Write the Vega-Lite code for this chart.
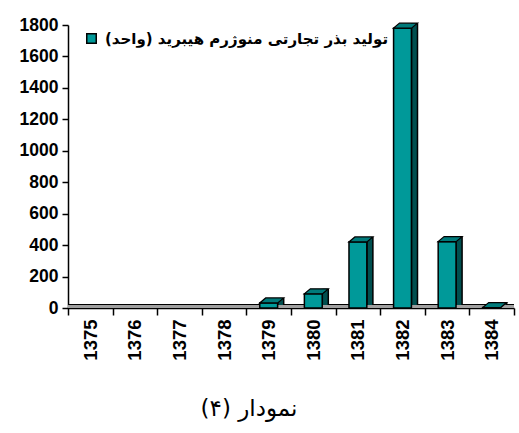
{
  "$schema": "https://vega.github.io/schema/vega-lite/v6.json",
  "width": 446,
  "height": 283,
  "autosize": "none",
  "padding": {"left": 68, "top": 25, "right": 5, "bottom": 125},
  "background": "white",
  "config": {"view": {"stroke": null}},
  "title": {"text": "نمودار (۴)", "orient": "bottom", "anchor": "middle", "dx": -42, "offset": 38, "font": "DejaVu Sans", "fontSize": 23, "fontWeight": "normal", "color": "black"},
  "data": {"values": [
    {"year": "1375", "value": 0},
    {"year": "1376", "value": 0},
    {"year": "1377", "value": 0},
    {"year": "1378", "value": 0},
    {"year": "1379", "value": 32},
    {"year": "1380", "value": 90},
    {"year": "1381", "value": 420},
    {"year": "1382", "value": 1780},
    {"year": "1383", "value": 422},
    {"year": "1384", "value": 3}
  ]},
  "encoding": {
    "x": {"field": "year", "type": "nominal", "sort": null,
      "scale": {"domain": ["1375", "1376", "1377", "1378", "1379", "1380", "1381", "1382", "1383", "1384"], "paddingInner": 0, "paddingOuter": 0},
      "axis": {"title": null, "labelAngle": -90, "labelAlign": "right", "labelBaseline": "middle", "labelFont": "Liberation Sans", "labelFontSize": 18.5, "labelFontWeight": "bold", "labelColor": "black", "tickBand": "extent", "tickSize": 7, "tickWidth": 1.5, "tickColor": "black", "domainColor": "black", "domainWidth": 1.5, "labelPadding": 4}},
    "y": {"field": "value", "type": "quantitative", "scale": {"domain": [0, 1800], "nice": false},
      "axis": {"title": null, "format": "d", "values": [0, 200, 400, 600, 800, 1000, 1200, 1400, 1600, 1800], "grid": false, "labelFont": "Liberation Sans", "labelFontSize": 17.5, "labelFontWeight": "bold", "labelColor": "black", "tickSize": 6, "tickWidth": 1.5, "tickColor": "black", "domainColor": "black", "domainWidth": 1.5, "labelPadding": 4}}
  },
  "layer": [
    {"mark": {"type": "rule", "color": "black", "strokeWidth": 5, "yOffset": -1.5},
     "encoding": {"x": null, "y": {"datum": 0}}},
    {"mark": {"type": "rule", "color": "#a0a0a0", "strokeWidth": 2.5, "yOffset": -1.5},
     "encoding": {"x": null, "y": {"datum": 0}}},
    {"transform": [{"filter": "datum.value > 0"}],
     "mark": {"type": "rule", "color": "black", "strokeWidth": 7.5, "xOffset": 12, "yOffset": -5, "y2Offset": -3},
     "encoding": {"y2": {"datum": 0}}},
    {"transform": [{"filter": "datum.value > 0"}],
     "mark": {"type": "rule", "color": "#004f4f", "strokeWidth": 4.5, "xOffset": 12, "yOffset": -5, "y2Offset": -3},
     "encoding": {"y2": {"datum": 0}}},
    {"transform": [{"filter": "datum.value > 0"}],
     "mark": {"type": "bar", "width": {"band": 0.4}, "stroke": "black", "strokeWidth": 1.5},
     "encoding": {
       "y2": {"datum": 0},
       "color": {"datum": "تولید بذر تجارتی منوژرم هیبرید (واحد)", "type": "nominal", "scale": {"range": ["#009999"]},
         "legend": {"title": null, "orient": "none", "legendX": 16, "legendY": 6, "padding": 0, "symbolType": "square", "symbolSize": 90, "symbolStrokeColor": "black", "symbolStrokeWidth": 1.5, "symbolFillColor": "#009999", "labelFont": "DejaVu Sans", "labelFontSize": 15, "labelFontWeight": "bold", "labelColor": "black", "labelLimit": 450, "labelOffset": 6}}
     }},
    {"transform": [{"filter": "datum.value > 0"}],
     "mark": {"type": "point", "filled": true, "fill": "#007a7a", "stroke": "black", "strokeWidth": 1.2, "opacity": 1, "size": 900,
       "shape": "M -0.6 0 L 0.6 0 L 1 -0.3333 L -0.2 -0.3333 Z"},
     "encoding": {}}
  ]
}
